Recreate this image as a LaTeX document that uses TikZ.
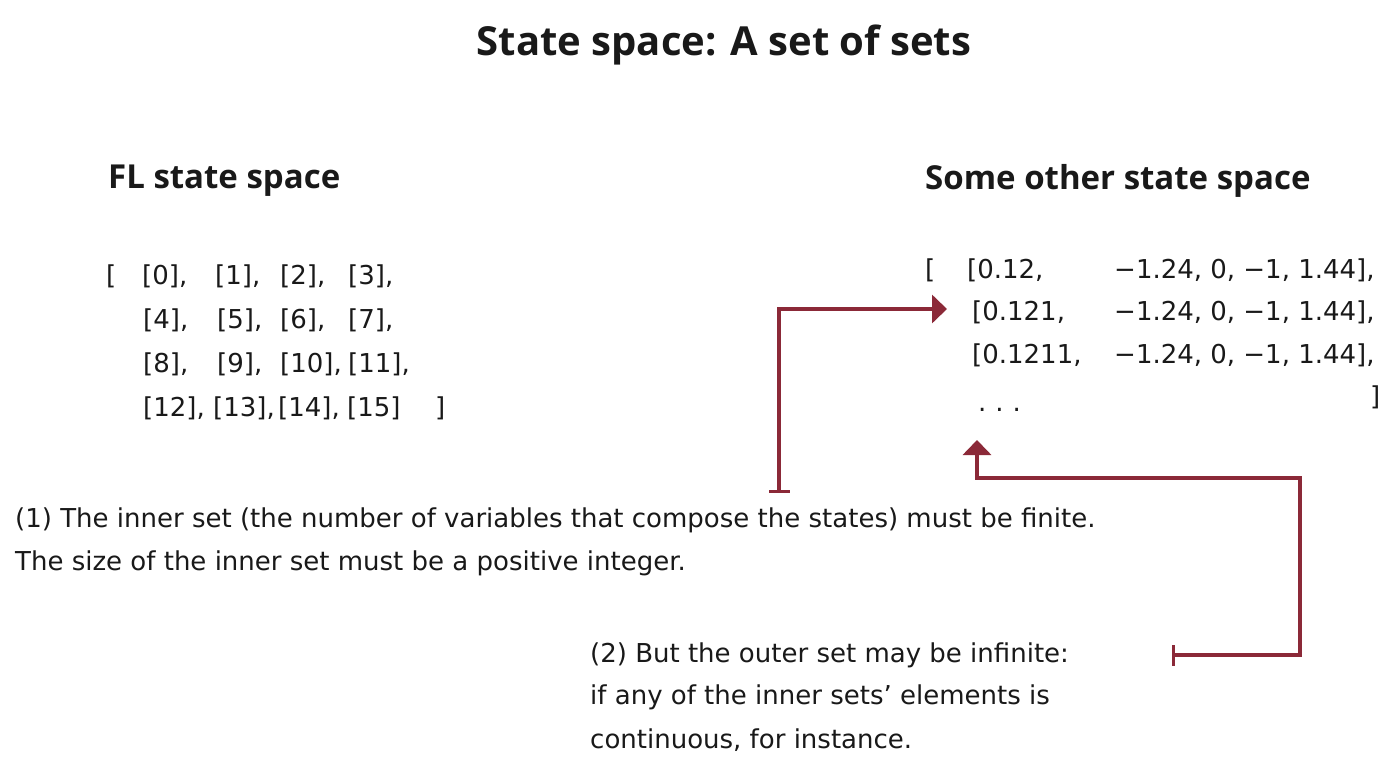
\documentclass[tikz,border=0pt]{standalone}
\usepackage{fontspec}
\setmainfont{Open Sans}
\newfontfamily\handfont{DejaVu Sans}
\usetikzlibrary{arrows.meta}
\definecolor{arr}{RGB}{139,41,56}
\definecolor{ink}{RGB}{25,25,25}
\begin{document}
\begin{tikzpicture}[x=1pt,y=-1pt,
  hand/.style={anchor=west, inner sep=0pt, text=ink, font=\handfont\fontsize{26}{30}\selectfont},
  head/.style={anchor=west, inner sep=0pt, text=ink, font=\bfseries\fontsize{33}{36}\selectfont},
  conn/.style={draw=arr, line width=3.5pt, {Bar[width=21pt,line width=3pt]}-{Triangle[length=15pt,width=28pt]}}]
\useasboundingbox[fill=white] (0,0) rectangle (1400,772);
% title
\node[anchor=center, inner sep=0pt, text=ink, font=\bfseries\fontsize{40}{44}\selectfont] (title) at (724,45) {State space: A set of sets};
% headings
\node[head] (hl) at (108,181) {FL state space};
\node[head] (hr) at (925,181) {Some other state space};
% left list
\node[hand] (lo) at (106,276) {[};
\node[hand] (l0) at (142,276) {[0],};
\node[hand] (l1) at (215,276) {[1],};
\node[hand] (l2) at (280,276) {[2],};
\node[hand] (l3) at (348,276) {[3],};
\node[hand] (l4) at (143,320) {[4],};
\node[hand] (l5) at (217,320) {[5],};
\node[hand] (l6) at (280,320) {[6],};
\node[hand] (l7) at (348,320) {[7],};
\node[hand] (l8) at (143,364) {[8],};
\node[hand] (l9) at (217,364) {[9],};
\node[hand] (l10) at (280,364) {[10],};
\node[hand] (l11) at (348,364) {[11],};
\node[hand] (l12) at (143,408) {[12],};
\node[hand] (l13) at (213,408) {[13],};
\node[hand] (l14) at (278,408) {[14],};
\node[hand] (l15) at (347,408) {[15]};
\node[hand] (lc) at (435,408) {]};
% right list
\node[hand] (ro) at (925,270) {[};
\node[hand] (r1a) at (967,270) {[0.12,};
\node[hand] (r1b) at (1114,270) {−1.24, 0, −1, 1.44],};
\node[hand] (r2a) at (972,312) {[0.121,};
\node[hand] (r2b) at (1114,312) {−1.24, 0, −1, 1.44],};
\node[hand] (r3a) at (972,355) {[0.1211,};
\node[hand] (r3b) at (1114,355) {−1.24, 0, −1, 1.44],};
\node[hand] (dots) at (978,410) {.\hspace{9pt}.\hspace{9pt}.};
\node[hand] (rc) at (1370,397) {]};
% notes
\node[hand] (t1a) at (15,520) {(1) The inner set (the number of variables that compose the states) must be finite.};
\node[hand] (t1b) at (15,563) {The size of the inner set must be a positive integer.};
\node[hand] (t2a) at (590,655) {(2) But the outer set may be infinite:};
\node[hand] (t2b) at (590,697) {if any of the inner sets’ elements is};
\node[hand] (t2c) at (590,740) {continuous, for instance.};
% connectors
\coordinate (s1) at (779,493);
\coordinate (e1) at (947,309);
\coordinate (s2) at (1172,655);
\coordinate (c2) at (1300,655);
\coordinate (e2) at (977,440);
\draw[conn] (s1) |- (e1);
\draw[conn] (s2) -- (c2) |- (e2 |- 0,478) -- (e2);
\end{tikzpicture}
\end{document}
